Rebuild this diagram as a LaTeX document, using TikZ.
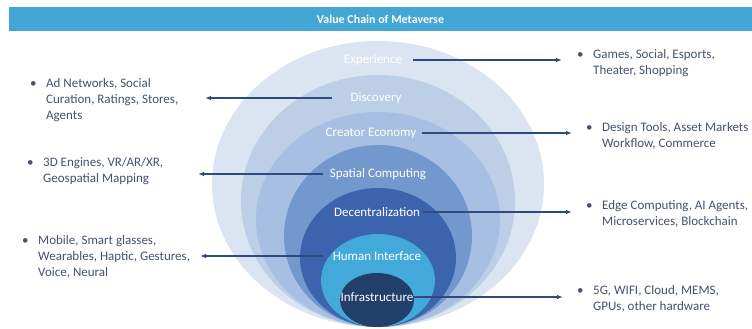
\documentclass[tikz,border=0pt]{standalone}
\usepackage{fontspec}
\setmainfont{Carlito}
\usetikzlibrary{arrows.meta}
\definecolor{barblue}{HTML}{44A6D5}
\definecolor{cA}{HTML}{DAE5F1}
\definecolor{cB}{HTML}{BCCFE6}
\definecolor{cC}{HTML}{A6BFE2}
\definecolor{cD}{HTML}{7398CE}
\definecolor{cE}{HTML}{3C63AD}
\definecolor{cF}{HTML}{43A9DB}
\definecolor{cG}{HTML}{223F69}
\definecolor{txt}{HTML}{44546A}
\definecolor{arrc}{HTML}{2F4B7C}
\newcommand\bl{\makebox[16pt][l]{•}}
\newcommand\ind{\hspace*{16pt}}
\tikzset{
  layer/.style={font=\fontsize{13}{16}\selectfont, text=white, inner sep=0pt},
  listbox/.style={font=\fontsize{13}{16}\selectfont, text=txt, align=left, inner sep=0pt, anchor=north west},
  arr/.style={draw=arrc, line width=1.2pt, -{Latex[length=6pt,width=4.5pt]}}
}
\begin{document}
\begin{tikzpicture}[x=1pt,y=-1pt]
\useasboundingbox (0,0) rectangle (752,329);
\fill[white] (0,0) rectangle (752,329);
% title bar
\node[fill=barblue, minimum width=743pt, minimum height=24pt, inner sep=0pt,
      text=white, font=\bfseries\fontsize{12}{14}\selectfont] (title) at (380.5,19) {Value Chain of Metaverse};
% nested ellipses (all tangent at the bottom)
\fill[cA] (378,184) ellipse [x radius=166pt, y radius=143pt];
\fill[cB] (378,201) ellipse [x radius=137pt, y radius=126pt];
\fill[cC] (378,219.5) ellipse [x radius=122pt, y radius=107.5pt];
\fill[cD] (378,236) ellipse [x radius=94pt, y radius=91pt];
\fill[cE] (378,257.5) ellipse [x radius=78pt, y radius=69.5pt];
\fill[cF] (378,280.5) ellipse [x radius=57pt, y radius=46.5pt];
\fill[cG] (377,300) ellipse [x radius=37pt, y radius=27pt];
% layer labels
\node[layer] (exp) at (373,60) {Experience};
\node[layer] (dis) at (376,98) {Discovery};
\node[layer] (cre) at (371,133) {Creator Economy};
\node[layer] (spa) at (378,174) {Spatial Computing};
\node[layer] (dec) at (377,212) {Decentralization};
\node[layer] (hum) at (377,256) {Human Interface};
\node[layer] (inf) at (377,297) {Infrastructure};
% bullet lists
\node[listbox] (lexp) at (577,49) {\bl Games, Social, Esports,\\\ind Theater, Shopping};
\node[listbox] (lcre) at (586,122) {\bl Design Tools, Asset Markets\\\ind Workflow, Commerce};
\node[listbox] (ldec) at (586,200) {\bl Edge Computing, AI Agents,\\\ind Microservices, Blockchain};
\node[listbox] (linf) at (577,285) {\bl 5G, WIFI, Cloud, MEMS,\\\ind GPUs, other hardware};
\node[listbox] (ldis) at (30,78) {\bl Ad Networks, Social\\\ind Curation, Ratings, Stores,\\\ind Agents};
\node[listbox] (lspa) at (27,157) {\bl 3D Engines, VR/AR/XR,\\\ind Geospatial Mapping};
\node[listbox] (lhum) at (22,235) {\bl Mobile, Smart glasses,\\\ind Wearables, Haptic, Gestures,\\\ind Voice, Neural};
% arrow tips
\coordinate (texp) at (562,60);
\coordinate (tdis) at (205,98);
\coordinate (tcre) at (572,133);
\coordinate (tspa) at (198,174);
\coordinate (tdec) at (572,212);
\coordinate (thum) at (200,256);
\coordinate (tinf) at (563,297);
% arrows
\draw[arr] ([xshift=11pt]exp.east) -- (texp);
\draw[arr] ([xshift=-18pt]dis.west) -- (tdis);
\draw[arr] ([xshift=6pt]cre.east) -- (tcre);
\draw[arr] ([xshift=-7pt]spa.west) -- (tspa);
\draw[arr] ([xshift=3pt]dec.east) -- (tdec);
\draw[arr] ([xshift=-10pt]hum.west) -- (thum);
\draw[arr] ([xshift=-1pt]inf.east) -- (tinf);
\end{tikzpicture}
\end{document}
